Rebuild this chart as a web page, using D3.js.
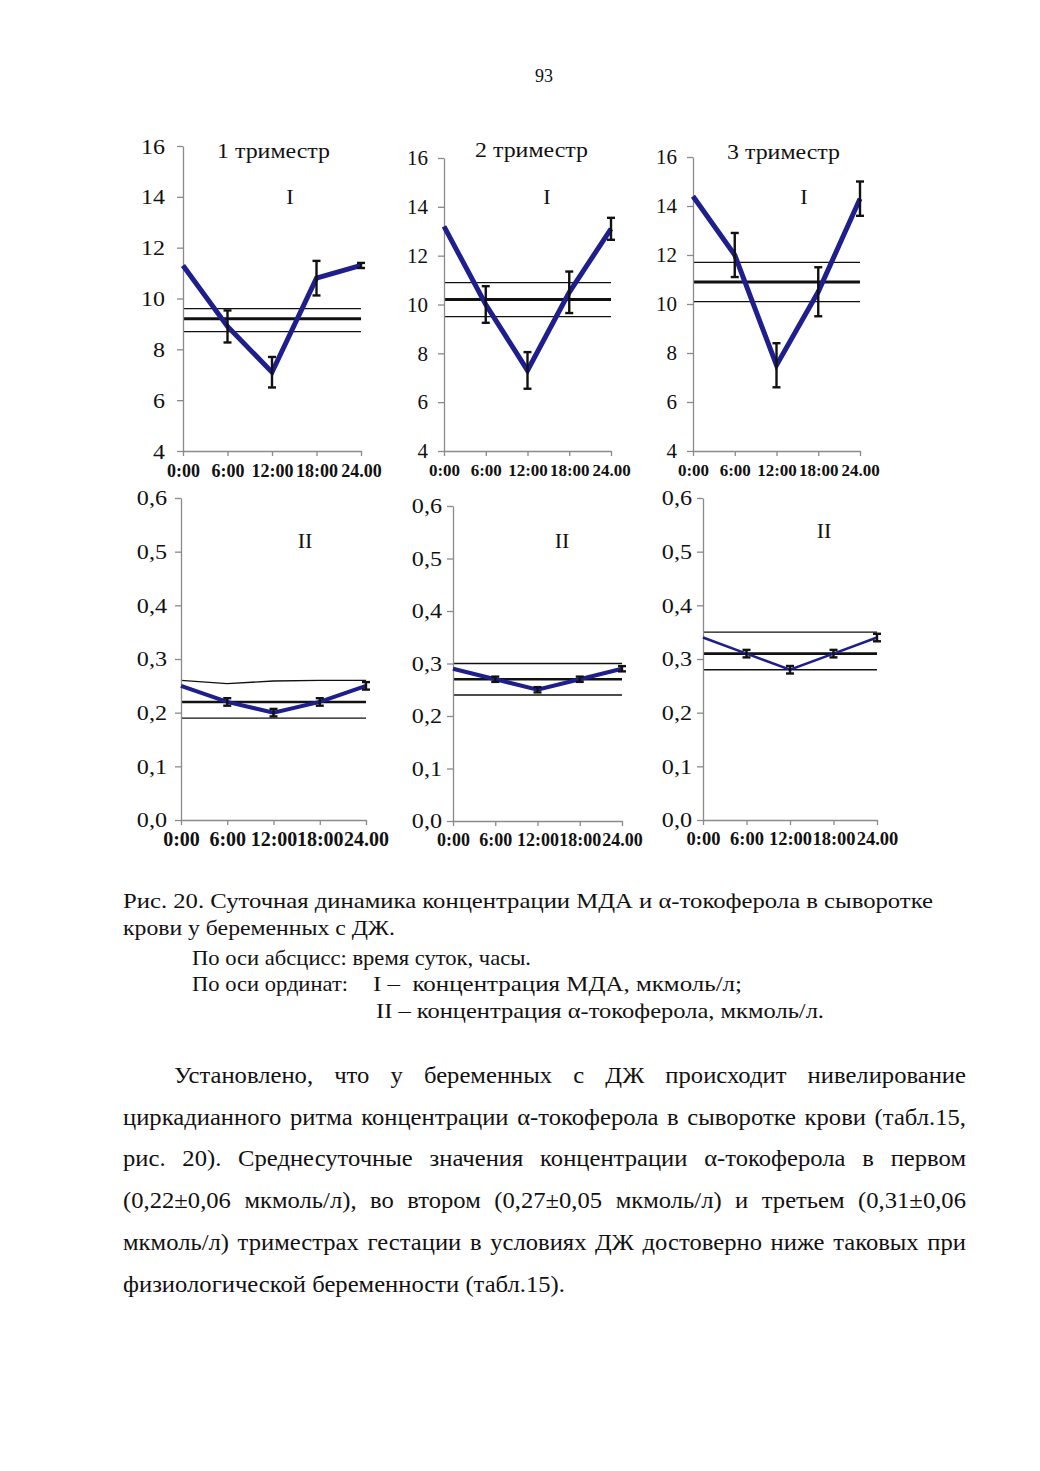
<!DOCTYPE html>
<html>
<head>
<meta charset="utf-8">
<script src="https://cdn.jsdelivr.net/npm/d3@7"></script>
<style>
  body { margin: 0; background: #fff; }
  text { font-family: "Liberation Serif", "Times New Roman", serif; fill: #111; }
</style>
</head>
<body>
<svg id="page" width="1040" height="1471"></svg>
<script>
// время суток
var times = ["0:00", "6:00", "12:00", "18:00", "24.00"];

// I - концентрация МДА, мкмоль/л
var mdaTicks = [4, 6, 8, 10, 12, 14, 16];

var mda1 = [11.3, 8.9, 7.1, 10.8, 11.3];
var mda1Err = [0, 0.63, 0.6, 0.68, 0.1];
var mda1Upper = [9.6, 9.6, 9.6, 9.6, 9.6];
var mda1Mean = [9.2, 9.2, 9.2, 9.2, 9.2];
var mda1Lower = [8.7, 8.7, 8.7, 8.7, 8.7];

var mda2 = [13.2, 10.0, 7.3, 10.5, 13.1];
var mda2Err = [0, 0.75, 0.75, 0.85, 0.45];
var mda2Upper = [10.9, 10.9, 10.9, 10.9, 10.9];
var mda2Mean = [10.2, 10.2, 10.2, 10.2, 10.2];
var mda2Lower = [9.5, 9.5, 9.5, 9.5, 9.5];

var mda3 = [14.4, 12.0, 7.5, 10.5, 14.3];
var mda3Err = [0, 0.9, 0.9, 1.0, 0.7];
var mda3Upper = [11.7, 11.7, 11.7, 11.7, 11.7];
var mda3Mean = [10.9, 10.9, 10.9, 10.9, 10.9];
var mda3Lower = [10.1, 10.1, 10.1, 10.1, 10.1];

// II - концентрация альфа-токоферола, мкмоль/л
var tocTicks = [0, 0.1, 0.2, 0.3, 0.4, 0.5, 0.6];

var toc1 = [0.25, 0.22, 0.20, 0.22, 0.25];
var toc1Err = [0, 0.007, 0.007, 0.007, 0.007];
var toc1Upper = [0.26, 0.254, 0.259, 0.26, 0.26];
var toc1Mean = [0.22, 0.22, 0.22, 0.22, 0.22];
var toc1Lower = [0.19, 0.19, 0.19, 0.19, 0.19];

var toc2 = [0.29, 0.27, 0.25, 0.27, 0.29];
var toc2Err = [0, 0.005, 0.005, 0.005, 0.005];
var toc2Upper = [0.30, 0.30, 0.30, 0.30, 0.30];
var toc2Mean = [0.27, 0.27, 0.27, 0.27, 0.27];
var toc2Lower = [0.24, 0.24, 0.24, 0.24, 0.24];

var toc3 = [0.34, 0.31, 0.28, 0.31, 0.34];
var toc3Err = [0, 0.007, 0.007, 0.007, 0.007];
var toc3Upper = [0.35, 0.35, 0.35, 0.35, 0.35];
var toc3Mean = [0.31, 0.31, 0.31, 0.31, 0.31];
var toc3Lower = [0.28, 0.28, 0.28, 0.28, 0.28];

var trimestres = ["1 триместр", "2 триместр", "3 триместр"];

var svg = d3.select("#page");
var azul = "#1e1e8c";
var formatoMda = d3.format("d");
var formatoToc = function (v) { return d3.format(".1f")(v).replace(".", ","); };

var paineis = [
    { x0: 183, x1: 361, yTop: 146, yBot: 451, domain: [4, 16], ticks: mdaTicks, fmt: formatoMda,
      vals: mda1, err: mda1Err, bands: [mda1Upper, mda1Mean, mda1Lower],
      lw: 5, yFont: 22, ySx: 1.09, yPad: 12, xFont: 18, xPad: 8, meanW: 3,
      roman: "I", rx: 290, ry: 204, title: trimestres[0], tx: 217, ty: 158 },
    { x0: 444, x1: 611, yTop: 158, yBot: 451, domain: [4, 16], ticks: mdaTicks, fmt: formatoMda,
      vals: mda2, err: mda2Err, bands: [mda2Upper, mda2Mean, mda2Lower],
      lw: 5, yFont: 21, ySx: 1.0, yPad: 10, xFont: 17, xPad: 8, meanW: 3,
      roman: "I", rx: 547, ry: 204, title: trimestres[1], tx: 475, ty: 157 },
    { x0: 693, x1: 860, yTop: 157, yBot: 451, domain: [4, 16], ticks: mdaTicks, fmt: formatoMda,
      vals: mda3, err: mda3Err, bands: [mda3Upper, mda3Mean, mda3Lower],
      lw: 5, yFont: 21, ySx: 1.0, yPad: 10, xFont: 17, xPad: 8, meanW: 3,
      roman: "I", rx: 804, ry: 204, title: trimestres[2], tx: 727, ty: 159 },
    { x0: 181, x1: 366, yTop: 498, yBot: 820, domain: [0, 0.6], ticks: tocTicks, fmt: formatoToc,
      vals: toc1, err: toc1Err, bands: [toc1Upper, toc1Mean, toc1Lower],
      lw: 4, yFont: 21, ySx: 1.15, yPad: 8, xFont: 20, xPad: 7, meanW: 2.6,
      roman: "II", rx: 305, ry: 548 },
    { x0: 453, x1: 622, yTop: 506, yBot: 821, domain: [0, 0.6], ticks: tocTicks, fmt: formatoToc,
      vals: toc2, err: toc2Err, bands: [toc2Upper, toc2Mean, toc2Lower],
      lw: 4, yFont: 21, ySx: 1.15, yPad: 5, xFont: 18, xPad: 7, meanW: 2.6,
      roman: "II", rx: 562, ry: 548 },
    { x0: 703, x1: 877, yTop: 498, yBot: 820, domain: [0, 0.6], ticks: tocTicks, fmt: formatoToc,
      vals: toc3, err: toc3Err, bands: [toc3Upper, toc3Mean, toc3Lower],
      lw: 2.6, yFont: 21, ySx: 1.15, yPad: 5, xFont: 18.5, xPad: 7, meanW: 2.6,
      roman: "II", rx: 824, ry: 538 }
];

function desenharPainel(p) {
    var x = d3.scalePoint().domain(times).range([p.x0, p.x1]);
    var y = d3.scaleLinear().domain(p.domain).range([p.yBot, p.yTop]);
    var g = svg.append("g");

    var linha = d3.line()
        .x(function (d, i) { return x(times[i]); })
        .y(function (d) { return y(d); });

    // линии среднего и границ
    p.bands.forEach(function (b, i) {
        g.append("path")
            .datum(b)
            .attr("d", linha)
            .attr("fill", "none")
            .attr("stroke", "#111")
            .attr("stroke-width", i === 1 ? p.meanW : 1.3);
    });

    // eixo Y
    var eixoY = g.append("g")
        .attr("transform", "translate(" + p.x0 + ",0)")
        .call(d3.axisLeft(y).tickValues(p.ticks).tickFormat(p.fmt)
            .tickSize(6).tickSizeOuter(0).tickPadding(p.yPad));
    eixoY.select(".domain").attr("stroke", "#8a8a8a").attr("stroke-width", 1.3);
    eixoY.selectAll(".tick line").attr("stroke", "#8a8a8a").attr("stroke-width", 1.3);
    eixoY.selectAll(".tick text")
        .attr("font-family", null)
        .style("font-size", p.yFont + "px")
        .attr("x", -(6 + p.yPad) / p.ySx)
        .attr("transform", "scale(" + p.ySx + ",1)");

    // eixo X
    var eixoX = g.append("g")
        .attr("transform", "translate(0," + p.yBot + ")")
        .call(d3.axisBottom(x).tickSize(5).tickSizeOuter(0).tickPadding(p.xPad));
    eixoX.select(".domain").attr("stroke", "#8a8a8a").attr("stroke-width", 1.3);
    eixoX.selectAll(".tick line").attr("stroke", "#8a8a8a").attr("stroke-width", 1.3);
    eixoX.selectAll(".tick text")
        .attr("font-family", null)
        .style("font-size", p.xFont + "px")
        .style("font-weight", "bold");

    // кривая
    g.append("path")
        .datum(p.vals)
        .attr("d", linha)
        .attr("fill", "none")
        .attr("stroke", azul)
        .attr("stroke-width", p.lw)
        .attr("stroke-linejoin", "miter");

    // barras de erro
    var barras = g.selectAll("g.erro")
        .data(p.vals.map(function (v, i) { return { t: times[i], v: v, e: p.err[i] }; })
            .filter(function (d) { return d.e > 0; }))
        .enter()
        .append("g")
        .attr("class", "erro")
        .attr("stroke", "#111")
        .attr("stroke-width", 2.4);
    barras.append("line")
        .attr("x1", function (d) { return x(d.t); })
        .attr("x2", function (d) { return x(d.t); })
        .attr("y1", function (d) { return y(d.v - d.e); })
        .attr("y2", function (d) { return y(d.v + d.e); });
    [-1, 1].forEach(function (s) {
        barras.append("line")
            .attr("x1", function (d) { return x(d.t) - 4; })
            .attr("x2", function (d) { return x(d.t) + 4; })
            .attr("y1", function (d) { return y(d.v + s * d.e); })
            .attr("y2", function (d) { return y(d.v + s * d.e); });
    });

    g.append("text")
        .attr("x", p.rx)
        .attr("y", p.ry)
        .attr("text-anchor", "middle")
        .style("font-size", "22px")
        .text(p.roman);

    if (p.title) {
        g.append("text")
            .attr("x", p.tx)
            .attr("y", p.ty)
            .style("font-size", "22px")
            .attr("textLength", 113)
            .attr("lengthAdjust", "spacingAndGlyphs")
            .text(p.title);
    }
}

paineis.forEach(desenharPainel);

// номер страницы
svg.append("text")
    .attr("x", 544)
    .attr("y", 82)
    .attr("text-anchor", "middle")
    .style("font-size", "18px")
    .text("93");

// подпись к рисунку
var legenda = [
    { t: "Рис. 20. Суточная динамика концентрации МДА и α-токоферола в сыворотке", x: 123, y: 908, w: 810 },
    { t: "крови у беременных с ДЖ.", x: 123, y: 935, w: 272 },
    { t: "По оси абсцисс: время суток, часы.", x: 192, y: 965, w: 339 },
    { t: "По оси ординат:", x: 192, y: 991, w: 156 },
    { t: "I –  концентрация МДА, мкмоль/л;", x: 373, y: 991, w: 369 },
    { t: "II – концентрация α-токоферола, мкмоль/л.", x: 376, y: 1018, w: 448 }
];
legenda.forEach(function (l) {
    svg.append("text")
        .attr("x", l.x)
        .attr("y", l.y)
        .style("font-size", "22px")
        .style("white-space", "pre")
        .attr("textLength", l.w)
        .attr("lengthAdjust", "spacingAndGlyphs")
        .text(l.t);
});

// texto do parágrafo, justificado
var paragrafo = [
    { t: "Установлено, что у беременных с ДЖ происходит нивелирование", x: 174, y: 1083, j: true },
    { t: "циркадианного ритма концентрации α-токоферола в сыворотке крови (табл.15,", x: 123, y: 1125, j: true },
    { t: "рис. 20). Среднесуточные значения концентрации α-токоферола в первом", x: 123, y: 1166, j: true },
    { t: "(0,22±0,06 мкмоль/л), во втором (0,27±0,05 мкмоль/л) и третьем (0,31±0,06", x: 123, y: 1208, j: true },
    { t: "мкмоль/л) триместрах гестации в условиях ДЖ достоверно ниже таковых при", x: 123, y: 1250, j: true },
    { t: "физиологической беременности (табл.15).", x: 123, y: 1292, j: false }
];
var margemDireita = 966;
var fonteTexto = 23;

// escala horizontal a partir da última linha (termina em x≈565)
var teste = svg.append("text").style("font-size", fonteTexto + "px").text(paragrafo[5].t);
var escalaX = 442 / teste.node().getComputedTextLength();
teste.remove();

paragrafo.forEach(function (l) {
    var g = svg.append("g")
        .attr("transform", "translate(" + l.x + "," + l.y + ") scale(" + escalaX + ",1)");
    var palavras = l.t.split(" ");
    var nos = palavras.map(function (w) {
        return g.append("text").style("font-size", fonteTexto + "px").text(w);
    });
    var larguras = nos.map(function (n) { return n.node().getComputedTextLength(); });
    var disponivel = (margemDireita - l.x) / escalaX;
    var espaco = l.j ? (disponivel - d3.sum(larguras)) / (palavras.length - 1) : fonteTexto * 0.25;
    var cx = 0;
    nos.forEach(function (n, i) {
        n.attr("x", cx);
        cx += larguras[i] + espaco;
    });
});
</script>
</body>
</html>
